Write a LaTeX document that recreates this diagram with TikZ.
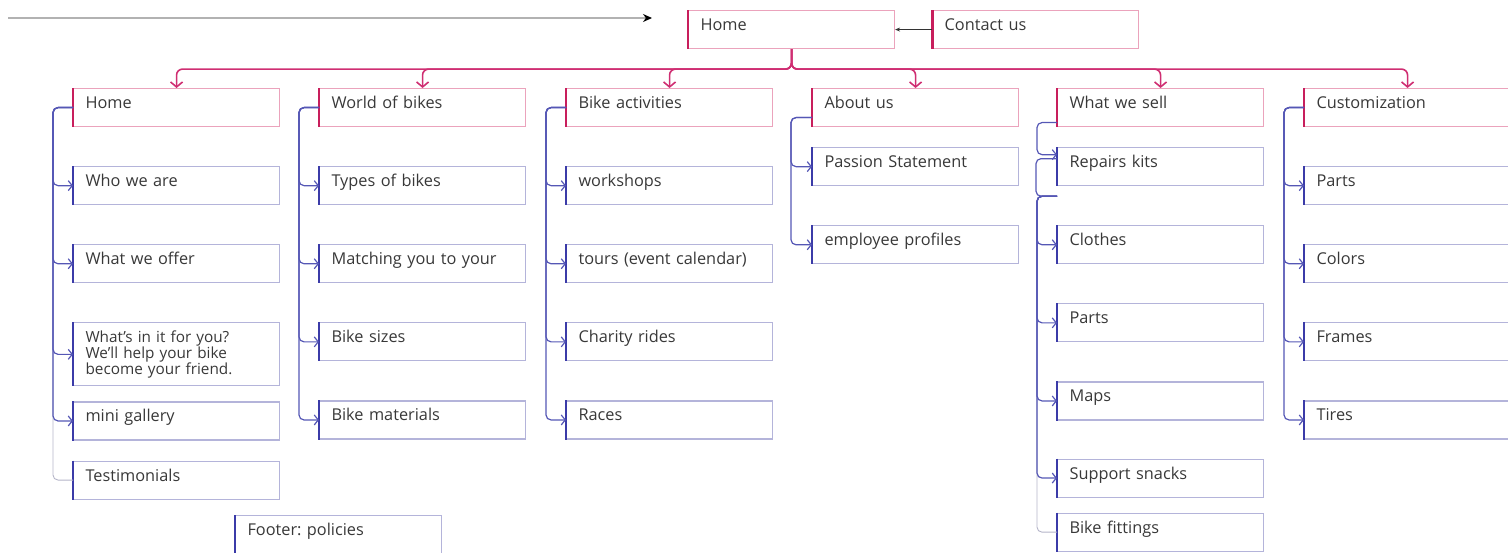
\documentclass[tikz,border=0pt]{standalone}
\usepackage{fontspec}
\setmainfont{Open Sans}
\usepackage{xcolor}
\usetikzlibrary{arrows.meta,positioning}

\definecolor{barpink}{HTML}{C81E5C}
\definecolor{pinkedge}{HTML}{EBA3BC}
\definecolor{buspink}{HTML}{CF2E72}
\definecolor{barblue}{HTML}{3B3BA8}
\definecolor{blueedge}{HTML}{B4B4DA}
\definecolor{linkblue}{HTML}{5557B5}
\definecolor{faintgray}{HTML}{B4B4C8}
\definecolor{textgray}{HTML}{383838}

\tikzset{
  leftbar/.style={append after command={(\tikzlastnode.north west) edge[draw=#1,line width=2.8pt] (\tikzlastnode.south west)}},
  card/.style={rectangle,line width=1.1pt,text width=182pt,align=left,inner xsep=12pt,inner ysep=0pt,
    text height=20pt,text depth=18pt,anchor=north west,text=textgray,font=\fontsize{16.3}{17}\selectfont},
  head/.style={card,draw=pinkedge,leftbar=barpink},
  sub/.style={card,draw=blueedge,leftbar=barblue},
  link/.style={draw=linkblue,line width=1.2pt,rounded corners=5pt,-{Straight Barb[length=4pt,width=10pt]}},
  faint/.style={draw=faintgray,line width=0.9pt,rounded corners=5pt},
  bus/.style={draw=buspink,line width=1.6pt,rounded corners=6pt,-{Straight Barb[length=5pt,width=12pt]}}
}

\begin{document}
\begin{tikzpicture}[x=1pt,y=1pt]
\useasboundingbox (0,0) rectangle (1508,-552);

\coordinate (origin) at (8,-18);
\coordinate (entry) at (652,-18);
\node[head] (index) at (688,-10) {Home};
\node[head,right=37pt of index] (contact) {Contact us};

% section heads
\node[head] (home) at (73,-88) {Home};
\node[head] (world) at (319,-88) {World of bikes};
\node[head] (activity) at (566,-88) {Bike activities};
\node[head] (about) at (812,-88) {About us};
\node[head] (sell) at (1057,-88) {What we sell};
\node[head] (custom) at (1304,-88) {Customization};

% home
\node[sub,below=39pt of home] (who) {Who we are};
\node[sub,below=39pt of who] (offer) {What we offer};
\node[sub,below=39pt of offer,text height={},text depth={},inner ysep=3pt,minimum height=63pt,
  font=\fontsize{15.3}{14.5}\selectfont] (foryou) {What's in it for you?\\We'll help your bike\\become your friend.};
\node[sub,below=15pt of foryou] (gallery) {mini gallery};
\node[sub,below=20pt of gallery] (testi) {Testimonials};
\node[sub] (footer) at (235,-515) {Footer:\ policies};

% world of bikes
\node[sub,below=39pt of world] (types) {Types of bikes};
\node[sub,below=39pt of types] (matching) {Matching you to your};
\node[sub,below=39pt of matching] (sizes) {Bike sizes};
\node[sub,below=39pt of sizes] (materials) {Bike materials};

% bike activities
\node[sub,below=39pt of activity] (workshops) {workshops};
\node[sub,below=39pt of workshops] (tours) {tours (event calendar)};
\node[sub,below=39pt of tours] (charity) {Charity rides};
\node[sub,below=39pt of charity] (races) {Races};

% about us
\node[sub,below=20pt of about] (passion) {Passion Statement};
\node[sub,below=39pt of passion] (profiles) {employee profiles};

% what we sell
\node[sub,below=20pt of sell] (repair) {Repairs kits};
\node[sub,below=39pt of repair] (clothes) {Clothes};
\node[sub,below=39pt of clothes] (parts) {Parts};
\node[sub,below=39pt of parts] (maps) {Maps};
\node[sub,below=38pt of maps] (snacks) {Support snacks};
\node[sub,below=15pt of snacks] (fitting) {Bike fittings};

% customization
\node[sub,below=39pt of custom] (cparts) {Parts};
\node[sub,below=39pt of cparts] (colors) {Colors};
\node[sub,below=39pt of colors] (frames) {Frames};
\node[sub,below=39pt of frames] (tires) {Tires};

% top links
\draw[draw=gray!60,line width=1.4pt,-{Stealth[length=9pt,width=8pt,black]}] (origin) -- (entry);
\draw[draw=black!80,line width=0.9pt,-{Stealth[length=5pt,width=4pt]}] (contact.west) -- (index.east);
\foreach \h in {home,world,activity,about,sell,custom}
  \draw[bus] (index.south) -- ++(0,-20) -| (\h.north);

% branches
\draw[faint] (home.west) -- ++(-20,0) |- (testi.west);
\foreach \c in {who,offer,foryou,gallery}
  \draw[link] (home.west) -- ++(-20,0) |- (\c.west);
\foreach \c in {types,matching,sizes,materials}
  \draw[link] (world.west) -- ++(-20,0) |- (\c.west);
\foreach \c in {workshops,tours,charity,races}
  \draw[link] (activity.west) -- ++(-20,0) |- (\c.west);
\foreach \c in {passion,profiles}
  \draw[link] ([yshift=-10pt]about.west) -- ++(-21,0) |- (\c.west);
\draw[link] ([yshift=-15pt]sell.west) -- ++(-20,0) |- ([yshift=12pt]repair.west);
\draw[link,-] ([yshift=8pt]repair.west) -- ++(-21,0) |- ([yshift=-10pt]repair.south west) coordinate (fork);
\draw[faint] (fork) -- ++(-20,0) |- (fitting.west);
\foreach \c in {clothes,parts,maps,snacks}
  \draw[link] (fork) -- ++(-20,0) |- (\c.west);
\foreach \c in {cparts,colors,frames,tires}
  \draw[link] (custom.west) -- ++(-20,0) |- (\c.west);

\end{tikzpicture}
\end{document}
